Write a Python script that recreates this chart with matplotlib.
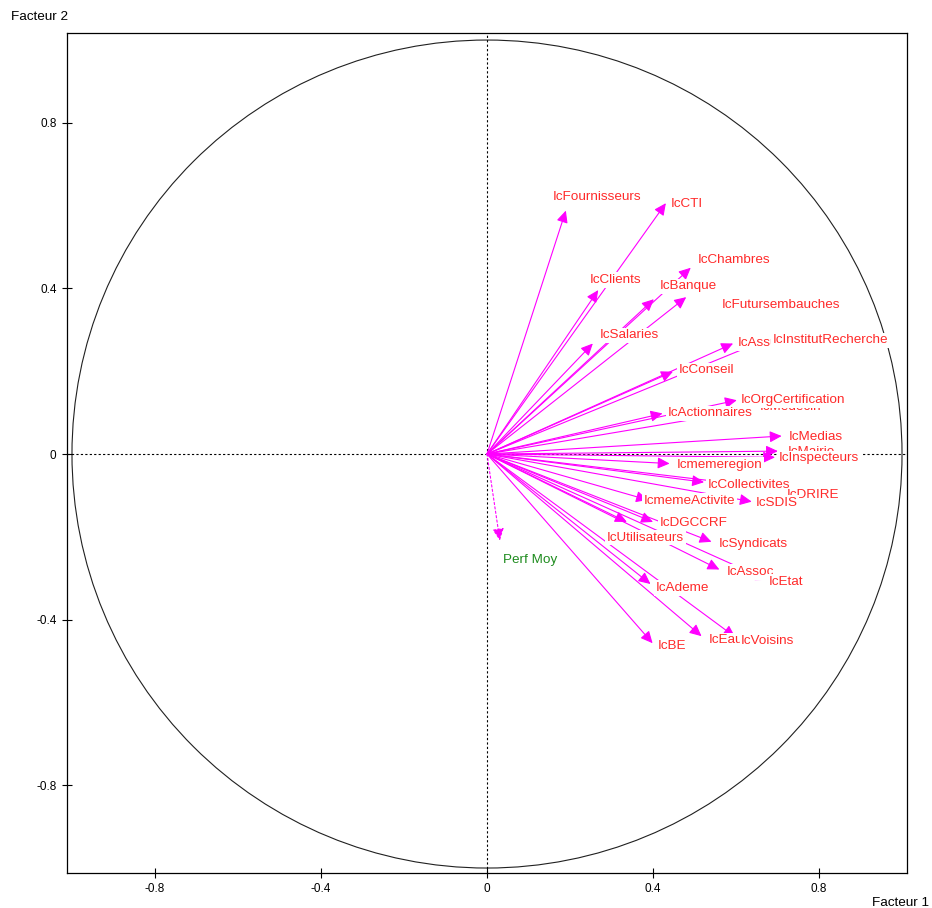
import matplotlib
matplotlib.use("Agg")
import matplotlib.pyplot as plt
from matplotlib.patches import Circle

plt.rcParams['font.family'] = ['Liberation Sans', 'DejaVu Sans']

# Variables (drawn in this order; later labels hide earlier ones)
names = ["IcFournisseurs", "IcCTI", "IcClients", "IcChambres", "IcBanque",
         "IcFutursembauches", "IcSalaries", "IcAssurances", "IcInstitutRecherche",
         "IcConseil", "IcMedecin", "IcOrgCertification", "IcActionnaires",
         "IcMairie", "IcMedias", "IcInspecteurs", "Icmemeregion",
         "IcCollectivites", "IcDRIRE", "IcSDIS", "IcDGCCRF", "IcmemeActivite",
         "IcUtilisateurs", "IcSyndicats", "IcAssoc", "IcEtat",
         "IcAdeme", "IcEau", "IcVoisins", "IcBE"]
fact1 = [0.190, 0.431, 0.268, 0.491, 0.402,
         0.480, 0.255, 0.593, 0.670,
         0.448, 0.629, 0.602, 0.423,
         0.701, 0.710, 0.694, 0.440,
         0.523, 0.711, 0.638, 0.400, 0.388,
         0.337, 0.541, 0.560, 0.675,
         0.394, 0.517, 0.598, 0.399]
fact2 = [0.588, 0.606, 0.396, 0.450, 0.374,
         0.379, 0.267, 0.267, 0.275,
         0.199, 0.106, 0.130, 0.098,
         0.007, 0.0435, -0.008, -0.023,
         -0.068, -0.085, -0.115, -0.164, -0.111,
         -0.164, -0.212, -0.279, -0.304,
         -0.314, -0.440, -0.442, -0.457]

# Supplementary variable
sup_name = "Perf Moy"
sup_f1 = 0.031
sup_f2 = -0.209

ticks = [-0.8, -0.4, 0, 0.4, 0.8]
tick_labels = ["-0.8", "-0.4", "0", "0.4", "0.8"]

# label offsets in pixels (layout)
offsets = [(-13, 13.5), (5, -1), (-8, 10), (7, 8), (6, 13),
           (36, -8), (7, 8), (5, 0), (8, 0),
           (6, 1.5), (12, 3), (4, 0), (5, 0),
           (10, -1), (7, -0.5), (4, -1), (7, -1.5),
           (4, -3), (5, -6), (4, -1), (7, -1), (-4, -1),
           (-20, -15.6), (7, -2.6), (7, -2.4), (2, -2),
           (5, -4), (7, -4), (6, -4), (5, -2.4)]
sup_offset = (3, -19)

W, H = 932, 908
fig = plt.figure(figsize=(W / 100, H / 100), dpi=100)
ax = fig.add_axes([67 / W, 1 - 873 / H, 840 / W, 840 / H])
ax.set_xlim(-1.012, 1.012)
ax.set_ylim(-1.012, 1.017)

ax.add_patch(Circle((0, 0), 1.0, fill=False, ec='#202020', lw=0.8, zorder=1))
ax.axhline(0, color='black', lw=0.8, dashes=(2, 2), zorder=1)
ax.axvline(0, color='black', lw=0.8, dashes=(2, 2), zorder=1)

mag = '#ff00ff'
astyle = '-|>,head_length=0.8,head_width=0.38'
for x, y in zip(fact1, fact2):
    ax.annotate('', xy=(x, y), xytext=(0, 0),
                arrowprops=dict(arrowstyle=astyle, color=mag, lw=0.8,
                                mutation_scale=9, shrinkA=0, shrinkB=0),
                zorder=2)
ax.annotate('', xy=(sup_f1, sup_f2), xytext=(0, 0),
            arrowprops=dict(arrowstyle=astyle, color=mag, lw=0.8, ls=(0, (2, 2)),
                            mutation_scale=9, shrinkA=0, shrinkB=0),
            zorder=2)

red = '#ff2a2a'
for i, (n, x, y, (dx, dy)) in enumerate(zip(names, fact1, fact2, offsets)):
    ax.annotate(n, xy=(x, y), xytext=(dx, dy), textcoords='offset pixels',
                ha='left', va='center', fontsize=9.7, color=red,
                bbox=dict(boxstyle='square,pad=0.12', fc='white', ec='none'),
                zorder=3 + i * 0.01)
ax.annotate(sup_name, xy=(sup_f1, sup_f2), xytext=sup_offset,
            textcoords='offset pixels', ha='left', va='center',
            fontsize=9.7, color='#1e8c1e', zorder=4)

ax.set_xticks(ticks)
ax.set_xticklabels(tick_labels)
ax.set_yticks(ticks)
ax.set_yticklabels(tick_labels)
ax.tick_params(direction='inout', length=7, width=0.8, labelsize=8.5, pad=4)
for s in ax.spines.values():
    s.set_linewidth(0.9)
    s.set_color('black')

fig.text(11 / W, 1 - 17 / H, "Facteur 2", ha='left', va='center', fontsize=9.7)
fig.text(872 / W, 1 - 903 / H, "Facteur 1", ha='left', va='center', fontsize=9.7)

fig.savefig("out.png", dpi=100)
